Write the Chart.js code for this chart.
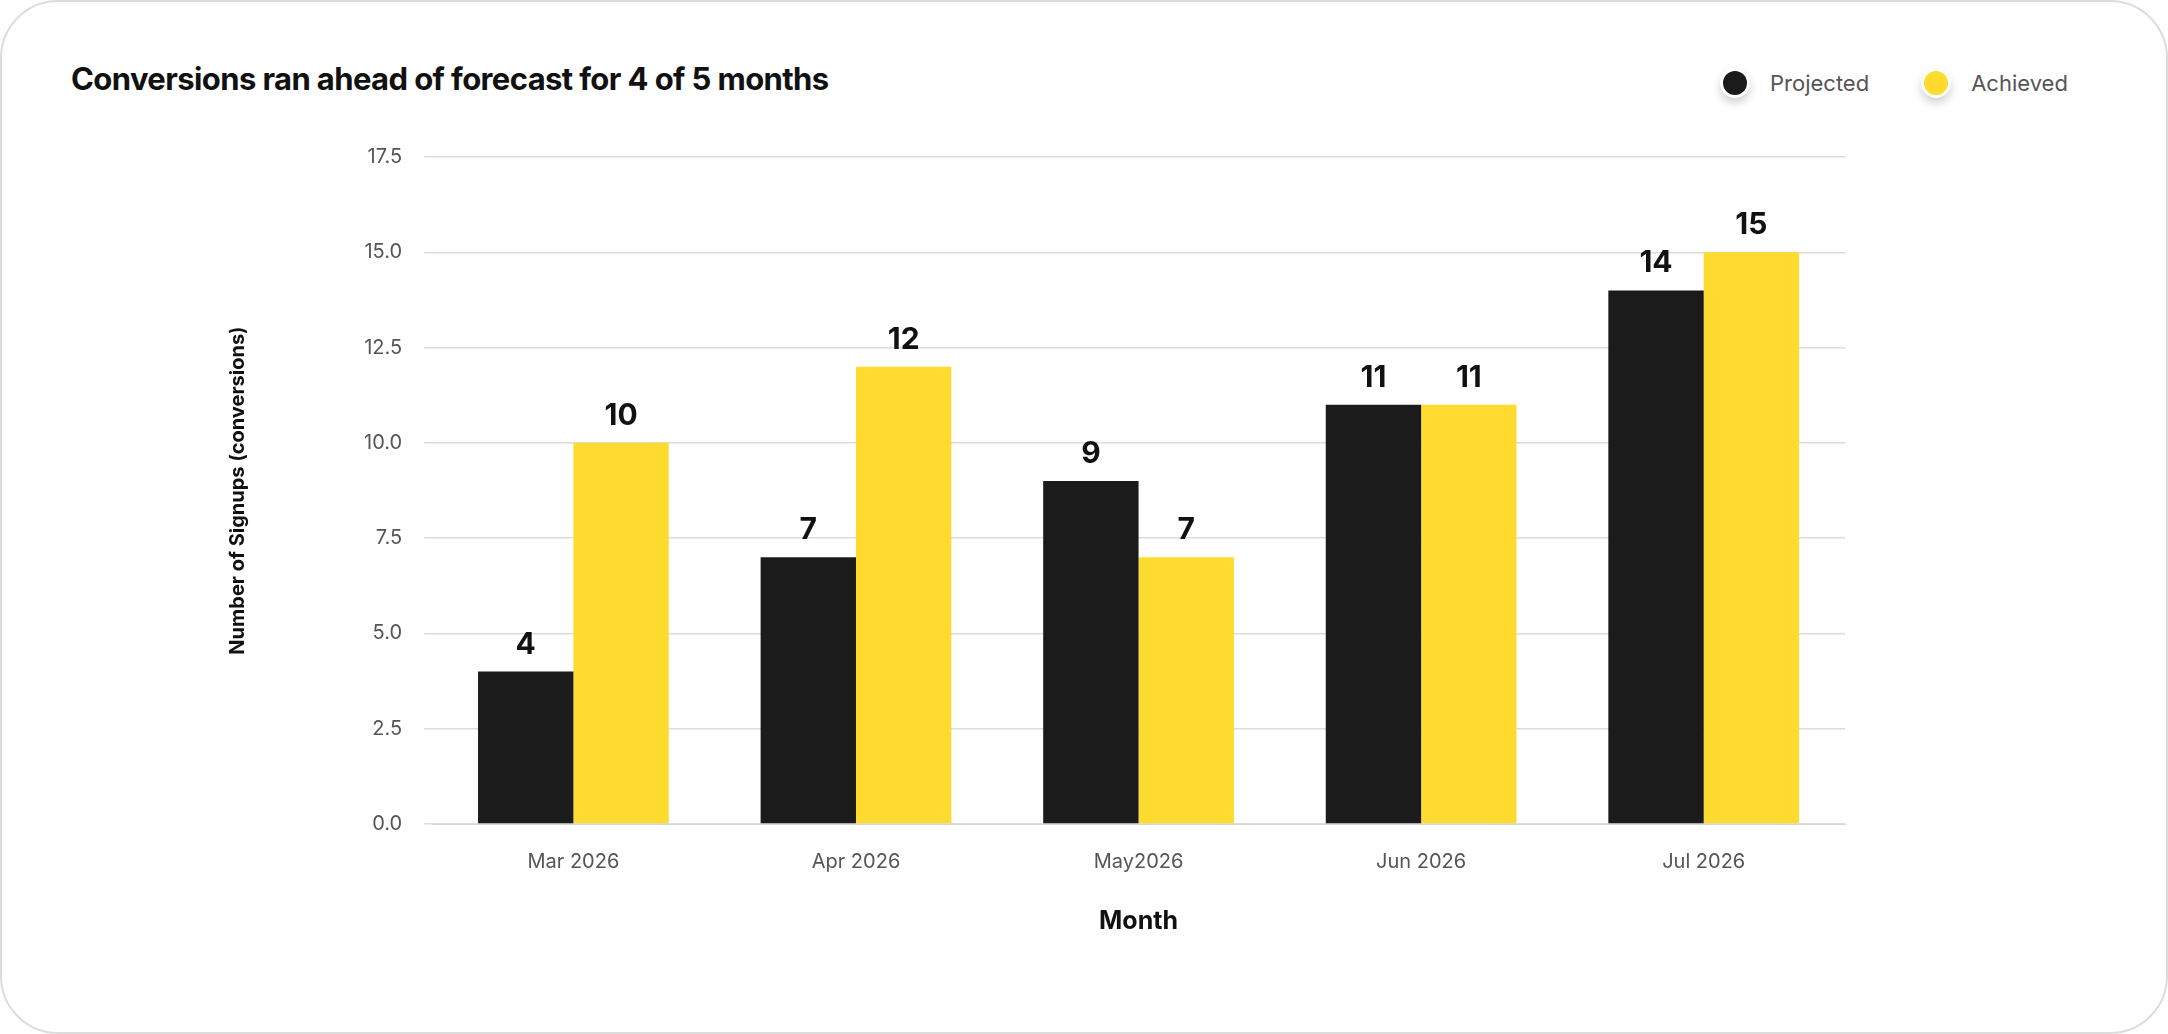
<!DOCTYPE html>
<html><head><meta charset="utf-8">
<script src="https://cdn.jsdelivr.net/npm/chart.js@4"></script>
<style>
html,body{margin:0;padding:0;background:#fff;font-family:Inter,sans-serif;}
#card{position:relative;width:2164px;height:1030px;border:2px solid #dcdcdc;border-radius:58px;overflow:hidden;background:#fff;}
#title{position:absolute;left:69px;top:58px;font-size:31px;font-weight:700;color:#111;letter-spacing:-0.6px;}
#legend{position:absolute;left:1718px;top:66px;display:flex;gap:52px;font-size:22px;color:#555;}
.it{display:flex;align-items:center;gap:20px;}
.dot{width:24px;height:24px;border-radius:50%;border:3px solid #fff;box-shadow:0 5px 8px rgba(0,0,0,0.18);}
canvas{position:absolute;left:0;top:0;}
</style></head><body>
<div id="card">
<div id="title">Conversions ran ahead of forecast for 4 of 5 months</div>
<div id="legend">
<div class="it"><div class="dot" style="background:#1b1b1b"></div>Projected</div>
<div class="it"><div class="dot" style="background:#fedb2e"></div>Achieved</div>
</div>
<canvas id="c" width="2164" height="1030"></canvas>
</div>
<script>
const categories=["Mar 2026","Apr 2026","May2026","Jun 2026","Jul 2026"];
const projected=[4,7,9,11,14];
const achieved=[10,12,7,11,15];
const seriesNames=["Projected","Achieved"];
const colors=["#1b1b1b","#fedb2e"];

const labelPlugin={id:'vals',afterDatasetsDraw(chart){
  const ctx=chart.ctx;ctx.save();
  ctx.font='700 30px Inter';ctx.fillStyle='#111';ctx.textAlign='center';ctx.textBaseline='bottom';
  chart.data.datasets.forEach((ds,i)=>{
    chart.getDatasetMeta(i).data.forEach((bar,j)=>{ctx.fillText(ds.data[j],bar.x,bar.y-12);});
  });
  ctx.restore();
}};
new Chart(document.getElementById('c'),{
  type:'bar',
  data:{labels:categories,datasets:[
    {label:seriesNames[0],data:projected,backgroundColor:colors[0]},
    {label:seriesNames[1],data:achieved,backgroundColor:colors[1]}]},
  options:{responsive:false,animation:false,
    layout:{padding:{left:224,right:321,top:155,bottom:92}},
    categoryPercentage:0.675,barPercentage:1,
    plugins:{legend:{display:false},tooltip:{enabled:false}},
    scales:{
      x:{grid:{display:false},border:{color:'#d6d6d6'},
        ticks:{color:'#555',font:{family:'Inter',size:20},padding:18},
        title:{display:true,text:'Month',color:'#111',font:{family:'Inter',size:25,weight:'700'},padding:{top:14}}},
      y:{min:0,max:17.5,ticks:{stepSize:2.5,color:'#555',font:{family:'Inter',size:20},padding:22,callback:v=>v.toFixed(1)},
        grid:{color:'#dcdcdc',lineWidth:1.5},border:{display:false},
        title:{display:true,text:'Number of Signups (conversions)',color:'#111',font:{family:'Inter',size:20,weight:'700'},padding:{top:0,bottom:92}}}
    }},
  plugins:[labelPlugin]
});
</script></body></html>
